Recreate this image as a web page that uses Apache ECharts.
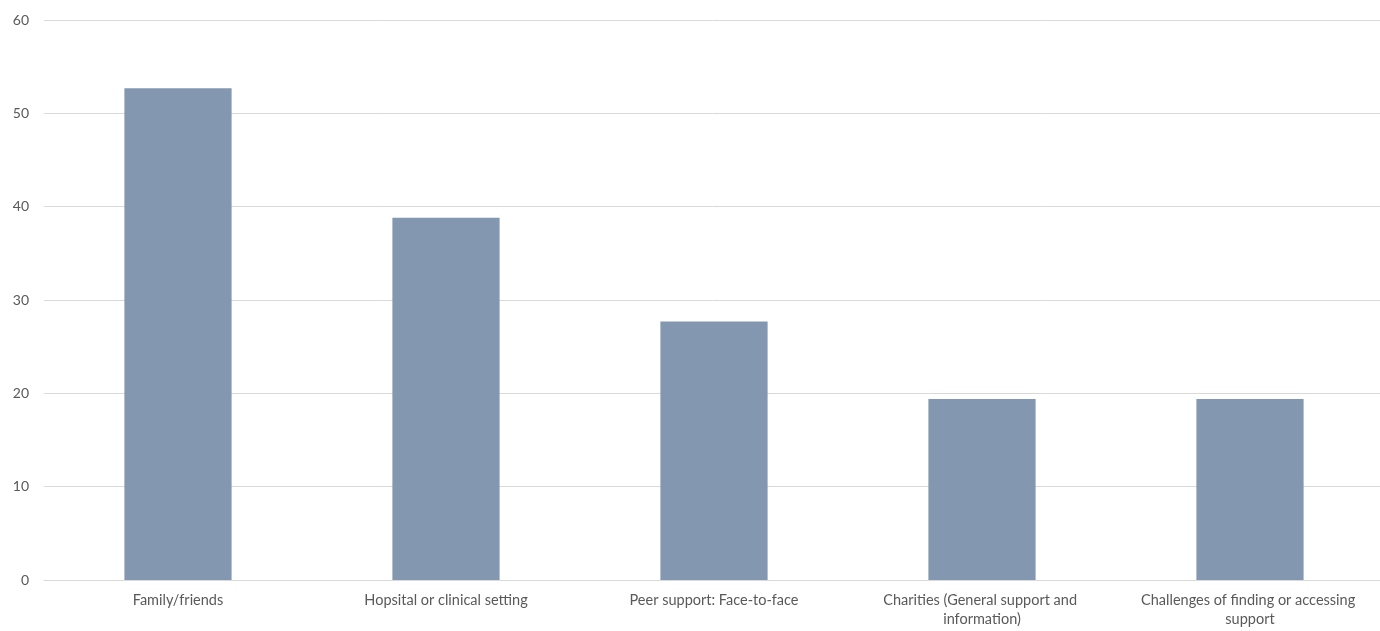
<!DOCTYPE html>
<html>
<head>
<meta charset="utf-8">
<script src="https://cdn.jsdelivr.net/npm/echarts@6/dist/echarts.min.js"></script>
<style>
  html, body { margin: 0; padding: 0; background: #ffffff; }
  #chart { width: 1380px; height: 631px; }
</style>
</head>
<body>
<div id="chart"></div>
<script>
// Sources of support mentioned
const categories = [
  'Family/friends',
  'Hopsital or clinical setting',
  'Peer support: Face-to-face',
  'Charities (General support and information)',
  'Challenges of finding or accessing support'
];
const values = [52.7, 38.8, 27.7, 19.4, 19.4];
const yTicks = { min: 0, max: 60, interval: 10 };

const chart = echarts.init(document.getElementById('chart'), null, { renderer: 'canvas' });
const labelFont = 'Lato, "Open Sans", sans-serif';

chart.setOption({
  animation: false,
  backgroundColor: '#ffffff',
  grid: {
    left: 44, top: 20, width: 1340, bottom: 51,
    containLabel: false,
    outerBoundsMode: 'none'
  },
  xAxis: {
    type: 'category',
    data: categories,
    axisLine: { show: true, lineStyle: { color: '#d9d9d9', width: 1 } },
    axisTick: { show: false },
    axisLabel: {
      color: '#595959',
      fontFamily: labelFont,
      fontSize: 14.5,
      margin: 11,
      lineHeight: 19,
      width: 235,
      overflow: 'break',
      interval: 0
    }
  },
  yAxis: {
    type: 'value',
    min: yTicks.min,
    max: yTicks.max,
    interval: yTicks.interval,
    axisLine: { show: false },
    axisTick: { show: false },
    splitLine: { lineStyle: { color: '#d9d9d9', width: 1 } },
    axisLabel: {
      color: '#595959',
      fontFamily: labelFont,
      fontSize: 14,
      margin: 15
    }
  },
  series: [{
    type: 'bar',
    data: values,
    barWidth: '40%',
    itemStyle: { color: '#8497b0' }
  }]
});
</script>
</body>
</html>
